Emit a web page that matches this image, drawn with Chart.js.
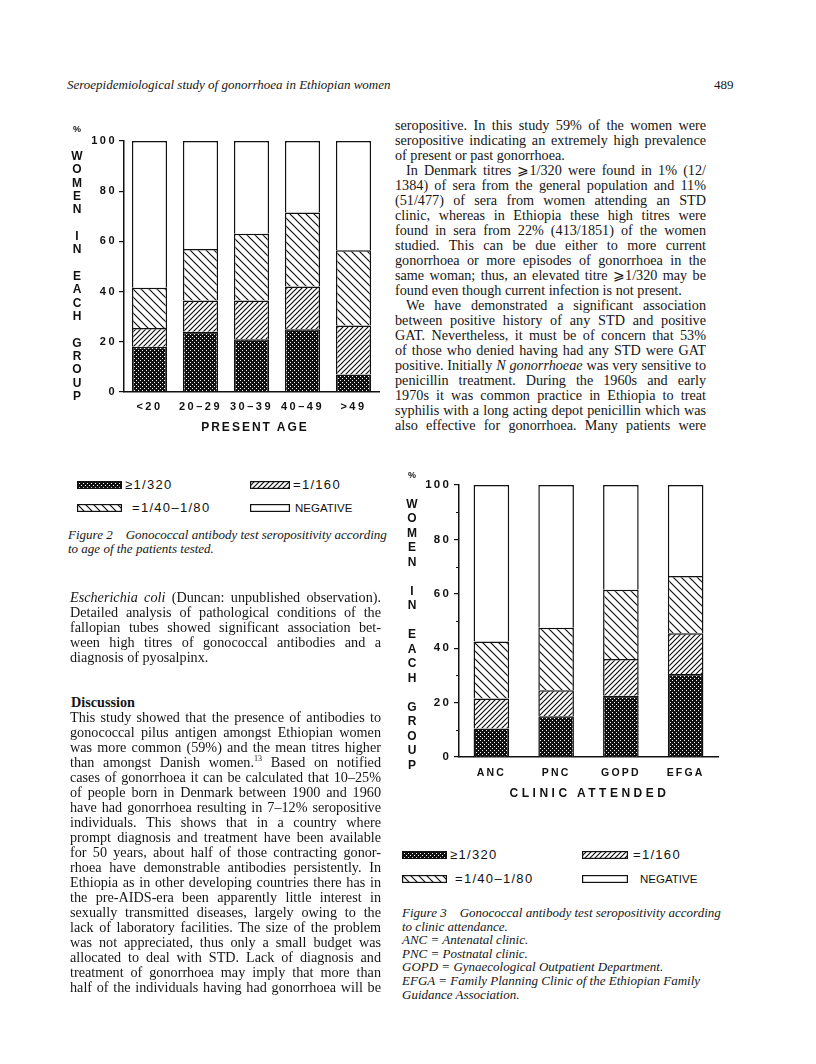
<!DOCTYPE html>
<html>
<head>
<meta charset="utf-8">
<script src="https://cdn.jsdelivr.net/npm/chart.js@4.4.0/dist/chart.umd.min.js"></script>
<style>
  html, body { margin: 0; padding: 0; background: #fff; }
  #page { position: relative; width: 816px; height: 1064px; overflow: hidden;
          font-family: 'Liberation Serif', 'Times New Roman', serif; color: #151515; }
  .abs { position: absolute; }
  .running { font-style: italic; font-size: 13px; line-height: 16px; }
  .col { position: absolute; width: 311px; font-size: 14.2px; line-height: 15px; }
  .col > div { text-align: justify; text-align-last: justify; }
  .col > div.last { text-align-last: left; }
  .col > div.ind { text-indent: 11px; }
  .caption { position: absolute; font-style: italic; font-size: 13px; line-height: 13.6px; }
  .plotfont { font-family: 'Liberation Sans', Arial, sans-serif; font-weight: bold; color: #111; }
  .vtitle { position: absolute; width: 20px; text-align: center; font-size: 12px; }
  .htitle { position: absolute; width: 240px; text-align: center; font-size: 12px; line-height: 14px; }
  .lgswatch { position: absolute; }
  .lglabel { position: absolute; font-family: 'Liberation Sans', Arial, sans-serif; font-size: 13px;
             line-height: 14px; letter-spacing: 1.3px; color: #111; white-space: nowrap; }
  .lglabel.neg { font-size: 11.5px; letter-spacing: 0; }
</style>
</head>
<body>
<div id="page">

  <div class="abs running" style="left:67px; top:77px;">Seroepidemiological study of gonorrhoea in Ethiopian women</div>
  <div class="abs" style="left:714px; top:77px; font-size:13px; line-height:16px;">489</div>

  <!-- Figure 2 -->
  <canvas id="ageChart" class="abs" width="330" height="320" style="left:60px; top:120px;"></canvas>
  <div id="ageYTitle" class="vtitle plotfont" style="left:67px; top:123.3px; line-height:13.33px;"></div>
  <div class="htitle plotfont" style="left:133px; top:420px; letter-spacing:2px; padding-left:2px;">PRESENT AGE</div>
  <div id="ageLegend"></div>
  <div class="caption" style="left:68px; top:528px; line-height:13.5px;">
    <div>Figure 2&nbsp;&nbsp;&nbsp; Gonococcal antibody test seropositivity according</div>
    <div>to age of the patients tested.</div>
  </div>

  <!-- Figure 3 -->
  <canvas id="clinicChart" class="abs" width="345" height="350" style="left:380px; top:460px;"></canvas>
  <div id="clinicYTitle" class="vtitle plotfont" style="left:402px; top:467.75px; line-height:14.5px;"></div>
  <div class="htitle plotfont" style="left:466px; top:786px; letter-spacing:3.5px; padding-left:3.5px;">CLINIC ATTENDED</div>
  <div id="clinicLegend"></div>
  <div class="caption" style="left:402px; top:906px;">
    <div>Figure 3&nbsp;&nbsp;&nbsp; Gonococcal antibody test seropositivity according</div>
    <div>to clinic attendance.</div>
    <div>ANC = Antenatal clinic.</div>
    <div>PNC = Postnatal clinic.</div>
    <div>GOPD = Gynaecological Outpatient Department.</div>
    <div>EFGA = Family Planning Clinic of the Ethiopian Family</div>
    <div>Guidance Association.</div>
  </div>

  <!-- right column text -->
  <div class="col" style="left:395px; top:117.5px;">
    <div>seropositive. In this study 59% of the women were</div>
    <div>seropositive indicating an extremely high prevalence</div>
    <div class="last">of present or past gonorrhoea.</div>
    <div class="ind">In Denmark titres ⩾1/320 were found in 1% (12/</div>
    <div>1384) of sera from the general population and 11%</div>
    <div>(51/477) of sera from women attending an STD</div>
    <div>clinic, whereas in Ethiopia these high titres were</div>
    <div>found in sera from 22% (413/1851) of the women</div>
    <div>studied. This can be due either to more current</div>
    <div>gonorrhoea or more episodes of gonorrhoea in the</div>
    <div>same woman; thus, an elevated titre ⩾1/320 may be</div>
    <div class="last">found even though current infection is not present.</div>
    <div class="ind">We have demonstrated a significant association</div>
    <div>between positive history of any STD and positive</div>
    <div>GAT. Nevertheless, it must be of concern that 53%</div>
    <div>of those who denied having had any STD were GAT</div>
    <div>positive. Initially <i>N gonorrhoeae</i> was very sensitive to</div>
    <div>penicillin treatment. During the 1960s and early</div>
    <div>1970s it was common practice in Ethiopia to treat</div>
    <div>syphilis with a long acting depot penicillin which was</div>
    <div>also effective for gonorrhoea. Many patients were</div>
  </div>

  <!-- left column text -->
  <div class="col" style="left:70px; top:589.5px;">
    <div><i>Escherichia coli</i> (Duncan: unpublished observation).</div>
    <div>Detailed analysis of pathological conditions of the</div>
    <div>fallopian tubes showed significant association bet-</div>
    <div>ween high titres of gonococcal antibodies and a</div>
    <div class="last">diagnosis of pyosalpinx.</div>
  </div>
  <div class="abs" style="left:71px; top:695px; font-size:14.2px; line-height:15px; font-weight:bold;">Discussion</div>
  <div class="col" style="left:70px; top:709.5px;">
    <div>This study showed that the presence of antibodies to</div>
    <div>gonococcal pilus antigen amongst Ethiopian women</div>
    <div>was more common (59%) and the mean titres higher</div>
    <div>than amongst Danish women.<sup style="font-size:8px; line-height:0;">13</sup> Based on notified</div>
    <div>cases of gonorrhoea it can be calculated that 10–25%</div>
    <div>of people born in Denmark between 1900 and 1960</div>
    <div>have had gonorrhoea resulting in 7–12% seropositive</div>
    <div>individuals. This shows that in a country where</div>
    <div>prompt diagnosis and treatment have been available</div>
    <div>for 50 years, about half of those contracting gonor-</div>
    <div>rhoea have demonstrable antibodies persistently. In</div>
    <div>Ethiopia as in other developing countries there has in</div>
    <div>the pre-AIDS-era been apparently little interest in</div>
    <div>sexually transmitted diseases, largely owing to the</div>
    <div>lack of laboratory facilities. The size of the problem</div>
    <div>was not appreciated, thus only a small budget was</div>
    <div>allocated to deal with STD. Lack of diagnosis and</div>
    <div>treatment of gonorrhoea may imply that more than</div>
    <div>half of the individuals having had gonorrhoea will be</div>
  </div>
</div>

<script>
// Categories and legend names
const ageGroups = ['<20', '20–29', '30–39', '40–49', '>49'];
const clinics = ['ANC', 'PNC', 'GOPD', 'EFGA'];
const titreNames = ['≥1/320', '=1/160', '=1/40–1/80', 'NEGATIVE'];
const yAxisTitle = 'WOMEN IN EACH GROUP';

// % of women in each age group (bottom segment first)
const ageTitre320 = [18, 24, 21, 25, 7];
const ageTitre160 = [7.5, 12.5, 15.5, 17, 19.5];
const ageTitre40to80 = [16, 20.5, 26.5, 29.5, 30];
const ageNegative = [58.5, 43, 37, 28.5, 43.5];

// % of women by clinic attended
const clinicTitre320 = [10.5, 15, 22.5, 30.5];
const clinicTitre160 = [11, 9.5, 13.5, 15];
const clinicTitre40to80 = [21, 23, 25.5, 21];
const clinicNegative = [57.5, 52.5, 38.5, 33.5];

// y axis ticks
const yStep = 20;
const minorTickValues = [10, 30, 50, 70, 90];

const INK = '#111111';

// Hatch / stipple fills like the printed figure
function makePattern(kind) {
    if (kind === 'none') return '#ffffff';
    const size = kind === 'dots' ? 4 : (kind === 'fwd' ? 5 : 8);
    const c = document.createElement('canvas');
    c.width = size;
    c.height = size;
    const g = c.getContext('2d');
    g.fillStyle = '#ffffff';
    g.fillRect(0, 0, size, size);
    if (kind === 'dots') {
        g.fillStyle = INK;
        g.fillRect(0, 0, size, size);
        g.fillStyle = '#ffffff';
        g.fillRect(0, 0, 1, 1);
        g.fillRect(2, 2, 1, 1);
    } else {
        g.strokeStyle = INK;
        g.lineWidth = 1.2;
        g.beginPath();
        if (kind === 'fwd') {
            g.moveTo(-1, size + 1); g.lineTo(size + 1, -1);
            g.moveTo(-1, 1); g.lineTo(1, -1);
            g.moveTo(size - 1, size + 1); g.lineTo(size + 1, size - 1);
        } else {
            g.moveTo(-1, -1); g.lineTo(size + 1, size + 1);
            g.moveTo(-1, size - 1); g.lineTo(1, size + 1);
            g.moveTo(size - 1, -1); g.lineTo(size + 1, 1);
        }
        g.stroke();
    }
    return g.createPattern(c, 'repeat');
}
const fillKinds = ['dots', 'fwd', 'back', 'none'];

// canvas letter spacing for the plotter-style tick labels
const spacedText = {
    id: 'spacedText',
    beforeDraw(chart, args, opts) {
        chart.ctx.letterSpacing = opts.spacing || '0px';
    }
};

// short unlabelled ticks between the labelled ones
const minorTicks = {
    id: 'minorTicks',
    afterDraw(chart, args, opts) {
        if (!opts.show) return;
        const y = chart.scales.y;
        const ctx = chart.ctx;
        ctx.save();
        ctx.strokeStyle = INK;
        ctx.lineWidth = 1;
        minorTickValues.forEach(v => {
            const py = Math.round(y.getPixelForValue(v)) + 0.5;
            ctx.beginPath();
            ctx.moveTo(y.right - 3, py);
            ctx.lineTo(y.right, py);
            ctx.stroke();
        });
        ctx.restore();
    }
};

function stackedChart(canvasId, labels, series, o) {
    const ctx = document.getElementById(canvasId).getContext('2d');
    return new Chart(ctx, {
        type: 'bar',
        data: {
            labels: labels,
            datasets: series.map((data, i) => ({
                label: titreNames[i],
                data: data,
                backgroundColor: makePattern(fillKinds[i]),
                borderColor: INK,
                borderWidth: 1.5,
                barPercentage: o.barPct,
                categoryPercentage: 1
            }))
        },
        options: {
            responsive: false,
            animation: false,
            layout: { padding: o.padding },
            plugins: {
                legend: { display: false },
                tooltip: { enabled: false },
                spacedText: { spacing: o.spacing },
                minorTicks: { show: o.minor }
            },
            scales: {
                x: {
                    stacked: true,
                    grid: { display: false },
                    border: { color: INK, width: 1.5 },
                    ticks: {
                        color: INK,
                        font: { family: "'Liberation Sans', Arial, sans-serif", weight: 'bold', size: o.xFont },
                        padding: o.xPad,
                        autoSkip: false,
                        maxRotation: 0
                    },
                    afterFit: s => { s.height = o.xHeight; }
                },
                y: {
                    stacked: true,
                    min: 0,
                    max: 100,
                    grid: { drawOnChartArea: false, tickLength: 5, color: INK, lineWidth: 1.2 },
                    border: { color: INK, width: 1.5 },
                    ticks: {
                        stepSize: yStep,
                        color: INK,
                        font: { family: "'Liberation Sans', Arial, sans-serif", weight: 'bold', size: o.yFont },
                        padding: o.yPad
                    },
                    afterFit: s => { s.width = o.yWidth; }
                }
            }
        },
        plugins: [spacedText, minorTicks]
    });
}

function verticalTitle(id) {
    const lines = ['%', ' '].concat(yAxisTitle.split(''));
    document.getElementById(id).innerHTML = lines.map((ch, i) => {
        if (ch === ' ') return '<div>&nbsp;</div>';
        if (i === 0) return '<div style="font-size:9px;">' + ch + '</div>';
        return '<div>' + ch + '</div>';
    }).join('');
}

// legend: 2 x 2 grid of swatches, placed like the printed key
function buildLegend(id, items) {
    const host = document.getElementById(id);
    items.forEach((it, i) => {
        const sw = document.createElement('canvas');
        sw.className = 'lgswatch';
        sw.width = it.w;
        sw.height = 8;
        sw.style.left = it.x + 'px';
        sw.style.top = (it.y - 4) + 'px';
        host.appendChild(sw);
        const g = sw.getContext('2d');
        g.fillStyle = makePattern(fillKinds[i]);
        g.fillRect(0, 0, it.w, 8);
        g.strokeStyle = INK;
        g.lineWidth = 1.2;
        g.strokeRect(0.6, 0.6, it.w - 1.2, 6.8);

        const lb = document.createElement('div');
        lb.className = 'lglabel' + (i === 3 ? ' neg' : '');
        lb.textContent = titreNames[i];
        lb.style.left = it.lx + 'px';
        lb.style.top = (it.y - 7) + 'px';
        host.appendChild(lb);
    });
}

document.addEventListener('DOMContentLoaded', function() {
    stackedChart('ageChart', ageGroups,
        [ageTitre320, ageTitre160, ageTitre40to80, ageNegative],
        { barPct: 0.69, padding: { top: 21, right: 11, left: 0, bottom: 0 },
          yWidth: 64, xHeight: 48, xPad: 0, yPad: 2, xFont: 11, yFont: 11,
          spacing: '2.5px', minor: false });

    stackedChart('clinicChart', clinics,
        [clinicTitre320, clinicTitre160, clinicTitre40to80, clinicNegative],
        { barPct: 0.55, padding: { top: 25, right: 7, left: 0, bottom: 0 },
          yWidth: 79, xHeight: 53, xPad: 2, yPad: 3, xFont: 10.5, yFont: 11.5,
          spacing: '2.2px', minor: true });

    verticalTitle('ageYTitle');
    verticalTitle('clinicYTitle');

    buildLegend('ageLegend', [
        { x: 77, y: 485, w: 45, lx: 125 },
        { x: 250, y: 485, w: 40, lx: 293 },
        { x: 77, y: 508, w: 45, lx: 132 },
        { x: 250, y: 508, w: 40, lx: 295 }
    ]);
    buildLegend('clinicLegend', [
        { x: 402, y: 855, w: 45, lx: 450 },
        { x: 582, y: 855, w: 46, lx: 633 },
        { x: 402, y: 879, w: 45, lx: 455 },
        { x: 582, y: 879, w: 46, lx: 640 }
    ]);
});
</script>
</body>
</html>
